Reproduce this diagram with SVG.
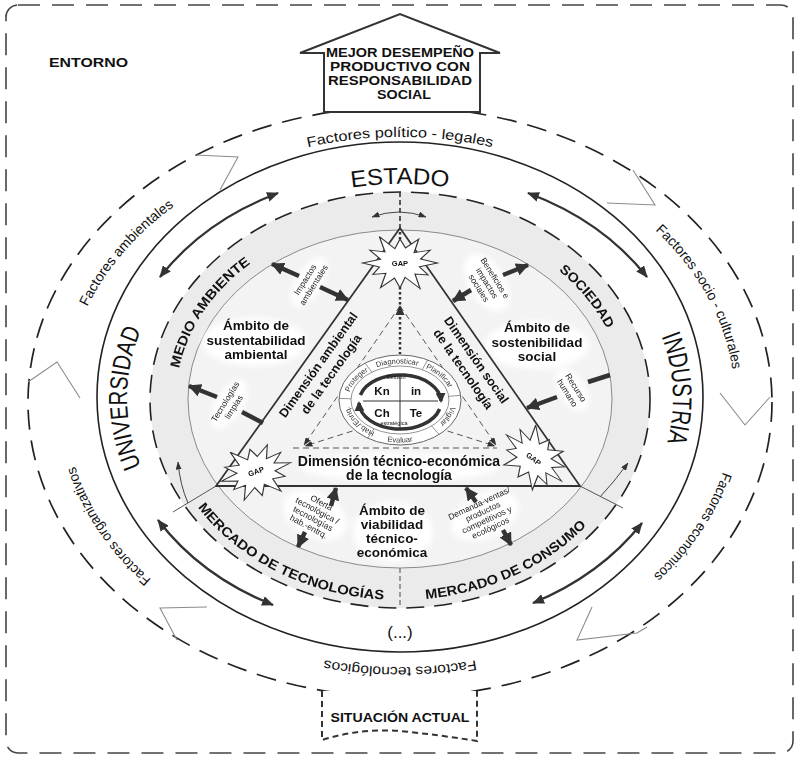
<svg xmlns="http://www.w3.org/2000/svg" width="800" height="761" viewBox="0 0 800 761">
<defs>
<style>
text{font-family:"Liberation Sans",Arial,sans-serif;fill:#111}
.b{font-weight:bold}
.dl{fill:none;stroke:#222;stroke-width:1.7;stroke-dasharray:20 11}
.zig{fill:none;stroke:#8c8c8c;stroke-width:1.1}
.big{fill:none;stroke:#333;stroke-width:2.4;marker-start:url(#ah);marker-end:url(#ah)}
.sa{stroke:#333;stroke-width:4.5;marker-end:url(#hb)}
.bar{stroke:#333;stroke-width:4.5}
.thin{fill:none;stroke:#444;stroke-width:1;marker-end:url(#hs)}
.dt{fill:none;stroke:#555;stroke-width:1;stroke-dasharray:6 4}
.fac{font-size:14px}
.lab{font-size:8.5px;fill:#222}
.amb{font-size:13.5px;font-weight:bold}
.star{fill:#fff;stroke:#333;stroke-width:1;vector-effect:non-scaling-stroke}
.gap{font-size:7.5px;font-weight:bold}
.cl{font-size:7.5px;fill:#333}
</style>
<marker id="ah" viewBox="0 0 12 10" refX="11" refY="5" markerWidth="12" markerHeight="10" markerUnits="userSpaceOnUse" orient="auto-start-reverse"><path d="M0,0 L12,5 L0,10 Z" fill="#333"/></marker>
<marker id="hb" viewBox="0 0 12 12" refX="11" refY="6" markerWidth="13" markerHeight="13" markerUnits="userSpaceOnUse" orient="auto"><path d="M0,0 L12,6 L0,12 Z" fill="#333"/></marker>
<marker id="hs" viewBox="0 0 8 6" refX="7.5" refY="3" markerWidth="8" markerHeight="6" markerUnits="userSpaceOnUse" orient="auto-start-reverse"><path d="M0,0 L8,3 L0,6 Z" fill="#333"/></marker>
<marker id="hc" viewBox="0 0 10 10" refX="8" refY="5" markerWidth="10" markerHeight="10" markerUnits="userSpaceOnUse" orient="auto"><path d="M0,0 L10,5 L0,10 Z" fill="#333"/></marker>
<filter id="soft" x="-50%" y="-50%" width="200%" height="200%"><feGaussianBlur stdDeviation="3"/></filter>
<path id="star" d="M30,0 L15.5,4.1 L22.5,13 L12,12 L16,27.7 L4.1,15.5 L0,27 L-4.4,16.4 L-15.5,26.8 L-11.3,11.3 L-21.7,12.5 L-16.4,4.4 L-30,0 L-15.5,-4.1 L-24.2,-14 L-12,-12 L-16.5,-28.6 L-4.1,-15.5 L0,-26 L4.4,-16.4 L15,-26 L11.3,-11.3 L24.2,-14 L16.4,-4.4 Z"/>
<path id="pPol" d="M184.6,199 A335,265 0 0 1 615.4,199"/>
<path id="pAmb" d="M68.3,438.8 A335,265 0 0 1 296.5,150"/>
<path id="pSoc" d="M557.1,168 A335,265 0 0 1 718.6,483.9"/>
<path id="pEco" d="M725,337.9 A335,265 0 0 1 536.3,644.1"/>
<path id="pTec" d="M615.4,605 A335,265 0 0 1 184.6,605"/>
<path id="pOrg" d="M263.7,644.1 A335,265 0 0 1 75,337.9"/>
<path id="pEst" d="M229,234 A266,214 0 0 1 571,234"/>
<path id="pUni" d="M163.6,505 A273,214 0 0 1 163.6,291"/>
<path id="pInd" d="M636.4,291 A273,214 0 0 1 636.4,505"/>
<path id="pMed" d="M176.3,389.5 A224,182 0 0 1 268.3,251.8"/>
<path id="pSocd" d="M518.7,244.7 A224,182 0 0 1 621.8,373.7"/>
<path id="pMT" d="M186.2,490.3 A240,201 0 0 0 404.2,600"/>
<path id="pMC" d="M395.8,600 A240,201 0 0 0 605.7,502.5"/>
<path id="pC" d="M348.5,400 A51.5,36.5 0 1 1 451.5,400 A51.5,36.5 0 1 1 348.5,400"/>
<path id="pEv" d="M341,400 A59,42.5 0 0 0 459,400"/>
</defs>

<rect width="800" height="761" fill="#fff"/>

<g id="entorno">
<rect x="6" y="5" width="787" height="748" rx="12" fill="none" stroke="#444" stroke-width="1.6" stroke-dasharray="22 12"/>
<text x="49" y="67" class="b" font-size="12" textLength="79" lengthAdjust="spacingAndGlyphs">ENTORNO</text>
</g>

<g id="anillo-factores">
<ellipse cx="400" cy="402" rx="372" ry="295" class="dl"/>
<polyline class="zig" points="195,155 238,157 220,190"/>
<polyline class="zig" points="633,170 655,205 607,203"/>
<polyline class="zig" points="28,382 57,362 80,398"/>
<polyline class="zig" points="720,393 745,425 770,397"/>
<polyline class="zig" points="592,607 577,640 637,633 647,627"/>
<polyline class="zig" points="207,607 160,608 177,640"/>
<text class="fac"><textPath href="#pPol" startOffset="50%" text-anchor="middle" textLength="186" lengthAdjust="spacingAndGlyphs">Factores político - legales</textPath></text>
<text class="fac"><textPath href="#pAmb" startOffset="50%" text-anchor="middle" textLength="134" lengthAdjust="spacingAndGlyphs">Factores ambientales</textPath></text>
<text class="fac"><textPath href="#pSoc" startOffset="50%" text-anchor="middle" textLength="162" lengthAdjust="spacingAndGlyphs">Factores socio - culturales</textPath></text>
<text class="fac"><textPath href="#pEco" startOffset="50%" text-anchor="middle" textLength="126" lengthAdjust="spacingAndGlyphs">Factores económicos</textPath></text>
<text class="fac"><textPath href="#pTec" startOffset="50%" text-anchor="middle" textLength="152" lengthAdjust="spacingAndGlyphs">Factores tecnológicos</textPath></text>
<text class="fac"><textPath href="#pOrg" startOffset="50%" text-anchor="middle" textLength="138" lengthAdjust="spacingAndGlyphs">Factores organizativos</textPath></text>
</g>

<g id="meta">
<polygon points="324,112 324,53 300,53 400,14 500,53 480,53 480,112" fill="#fff" stroke="#333" stroke-width="2"/>
<text x="400" y="57" class="b" font-size="13.5" text-anchor="middle" textLength="148" lengthAdjust="spacingAndGlyphs">MEJOR DESEMPEÑO</text>
<text x="400" y="71" class="b" font-size="13.5" text-anchor="middle" textLength="140" lengthAdjust="spacingAndGlyphs">PRODUCTIVO CON</text>
<text x="400" y="85" class="b" font-size="13.5" text-anchor="middle" textLength="144" lengthAdjust="spacingAndGlyphs">RESPONSABILIDAD</text>
<text x="404" y="98.5" class="b" font-size="13.5" text-anchor="middle" textLength="54" lengthAdjust="spacingAndGlyphs">SOCIAL</text>
</g>

<g id="situacion">
<path d="M322,691 L322,740 Q360,728 400,731 Q440,735 477,741 L477,691" fill="#fff" stroke="#333" stroke-width="2" stroke-dasharray="6 4"/>
<text x="400" y="722" class="b" font-size="13" text-anchor="middle" textLength="139" lengthAdjust="spacingAndGlyphs">SITUACIÓN ACTUAL</text>
</g>

<g id="actores">
<ellipse cx="400" cy="397" rx="303" ry="255" fill="#fff" stroke="#222" stroke-width="1.6"/>
<text font-size="23"><textPath href="#pEst" startOffset="50%" text-anchor="middle" textLength="97" lengthAdjust="spacingAndGlyphs">ESTADO</textPath></text>
<text font-size="25"><textPath href="#pUni" startOffset="50%" text-anchor="middle" textLength="140" lengthAdjust="spacingAndGlyphs">UNIVERSIDAD</textPath></text>
<text font-size="27"><textPath href="#pInd" startOffset="46%" text-anchor="middle" textLength="108" lengthAdjust="spacingAndGlyphs">INDUSTRIA</textPath></text>
<text x="400" y="638" font-size="17" text-anchor="middle">(...)</text>
</g>

<g id="entorno-inmediato">
<ellipse cx="400" cy="400" rx="250" ry="208" fill="#ebebeb" stroke="#222" stroke-width="1.6" stroke-dasharray="18 10"/>
<ellipse cx="400" cy="399" rx="212" ry="169" fill="#f3f3f3" stroke="#8a8a8a" stroke-width="1"/>
<g filter="url(#soft)" fill="#fff">
<ellipse cx="254" cy="342" rx="52" ry="24"/>
<ellipse cx="537" cy="345" rx="52" ry="24"/>
<ellipse cx="393" cy="532" rx="40" ry="30"/>
<ellipse cx="400" cy="467" rx="100" ry="14"/>
<ellipse cx="309" cy="282" rx="28" ry="13" transform="rotate(-58 309 282)"/>
<ellipse cx="229" cy="404" rx="28" ry="13" transform="rotate(-58 229 404)"/>
<ellipse cx="487" cy="283" rx="32" ry="18" transform="rotate(58 487 283)"/>
<ellipse cx="572" cy="390" rx="24" ry="13" transform="rotate(58 572 390)"/>
<ellipse cx="315" cy="515" rx="34" ry="22" transform="rotate(28 315 515)"/>
<ellipse cx="485" cy="516" rx="36" ry="22" transform="rotate(-25 485 516)"/>
</g>
<text class="amb"><textPath href="#pMed" startOffset="50%" text-anchor="middle" textLength="130" lengthAdjust="spacingAndGlyphs">MEDIO AMBIENTE</textPath></text>
<text class="amb"><textPath href="#pSocd" startOffset="50%" text-anchor="middle" textLength="76" lengthAdjust="spacingAndGlyphs">SOCIEDAD</textPath></text>
<text class="amb"><textPath href="#pMT" startOffset="50%" text-anchor="middle" textLength="214" lengthAdjust="spacingAndGlyphs">MERCADO DE TECNOLOGÍAS</textPath></text>
<text class="amb"><textPath href="#pMC" startOffset="50%" text-anchor="middle" textLength="180" lengthAdjust="spacingAndGlyphs">MERCADO DE CONSUMO</textPath></text>
</g>

<g id="ambitos">
<text class="b" font-size="13.5" text-anchor="middle"><tspan x="256" y="330">Ámbito de</tspan><tspan x="256" y="345">sustentabilidad</tspan><tspan x="256" y="359">ambiental</tspan></text>
<text class="b" font-size="13.5" text-anchor="middle"><tspan x="537" y="332">Ámbito de</tspan><tspan x="537" y="347">sostenibilidad</tspan><tspan x="537" y="361">social</tspan></text>
<text class="b" font-size="13.5" text-anchor="middle"><tspan x="392" y="515">Ámbito de</tspan><tspan x="392" y="529">viabilidad</tspan><tspan x="392" y="543">técnico-</tspan><tspan x="392" y="557">económica</tspan></text>
</g>

<g id="triangulo">
<path d="M400,228 L216,486 L580,486 Z" fill="none" stroke="#333" stroke-width="1.8"/>
<line x1="216" y1="486" x2="173" y2="512" stroke="#555" stroke-width="1"/>
<line x1="580" y1="486" x2="623" y2="508" stroke="#555" stroke-width="1"/>
<text class="b" font-size="12.5" text-anchor="middle" transform="translate(318.4,365) rotate(-54.5)"><tspan x="0" y="4">Dimensión ambiental</tspan></text>
<text class="b" font-size="12.5" text-anchor="middle" transform="translate(331.4,374.2) rotate(-54.5)"><tspan x="0" y="4">de la tecnología</tspan></text>
<text class="b" font-size="12.5" text-anchor="middle" transform="translate(476.2,360) rotate(55.1)"><tspan x="0" y="4">Dimensión social</tspan></text>
<text class="b" font-size="12.5" text-anchor="middle" transform="translate(463.1,369.2) rotate(55.1)"><tspan x="0" y="4">de la tecnología</tspan></text>
<text class="b" font-size="14" text-anchor="middle"><tspan x="399" y="466">Dimensión técnico-económica</tspan><tspan x="399" y="480">de la tecnología</tspan></text>
</g>

<g id="etiquetas">
<text class="lab" text-anchor="middle" transform="translate(309,282) rotate(-58)"><tspan x="0" y="-1.5">Impactos</tspan><tspan x="0" y="8.5">ambientales</tspan></text>
<text class="lab" text-anchor="middle" transform="translate(229,404) rotate(-58)"><tspan x="0" y="-1.5">Tecnologías</tspan><tspan x="0" y="8.5">limpias</tspan></text>
<text class="lab" text-anchor="middle" transform="translate(487,283) rotate(58)"><tspan x="0" y="-6.5">Beneficios e</tspan><tspan x="0" y="3">impactos</tspan><tspan x="0" y="12.5">sociales</tspan></text>
<text class="lab" text-anchor="middle" transform="translate(572,390) rotate(58)"><tspan x="0" y="-1.5">Recurso</tspan><tspan x="0" y="8.5">humano</tspan></text>
<text class="lab" text-anchor="middle" transform="translate(315,515) rotate(28)"><tspan x="0" y="-11">Oferta</tspan><tspan x="0" y="-2">tecnológica /</tspan><tspan x="0" y="7">tecnologías</tspan><tspan x="0" y="16">hab.-entrq.</tspan></text>
<text class="lab" text-anchor="middle" transform="translate(485,516) rotate(-25)"><tspan x="0" y="-11">Demanda-ventas/</tspan><tspan x="0" y="-2">productos</tspan><tspan x="0" y="7">competitivos y</tspan><tspan x="0" y="16">ecológicos</tspan></text>
</g>

<g id="connectors">
<path class="big" d="M160,277 A280,232 0 0 1 278,193"/>
<path class="big" d="M528,193 A280,232 0 0 1 647,277"/>
<path class="big" d="M158,520 A280,232 0 0 0 273,605"/>
<path class="big" d="M533,603 A280,232 0 0 0 642,523"/>
<line x1="400" y1="192" x2="400" y2="228" stroke="#333" stroke-width="1.6" stroke-dasharray="5 3"/>
<line x1="400" y1="568" x2="400" y2="608" stroke="#666" stroke-width="1.2" stroke-dasharray="5 3"/>
<path d="M372,217 Q399,207 426,217" fill="none" stroke="#444" stroke-width="1" marker-start="url(#hs)" marker-end="url(#hs)"/>
<path class="thin" d="M188,503 Q180,485 178,462"/>
<path class="thin" d="M600,497 Q614,482 628,463"/>
<line class="sa" x1="299" y1="276" x2="272" y2="264"/>
<line class="sa" x1="320" y1="287" x2="348" y2="300"/>
<line class="sa" x1="217" y1="397" x2="189" y2="386"/>
<line class="bar" x1="242" y1="412" x2="263" y2="423"/>
<line class="sa" x1="503" y1="275" x2="528" y2="265"/>
<line class="sa" x1="471" y1="290" x2="453" y2="301"/>
<line class="bar" x1="588" y1="382" x2="610" y2="375"/>
<line class="sa" x1="557" y1="397" x2="527" y2="408"/>
<line class="sa" x1="331" y1="506" x2="336" y2="488"/>
<line class="sa" x1="305" y1="532" x2="298" y2="547"/>
<line class="sa" x1="476" y1="502" x2="466" y2="488"/>
<line class="sa" x1="503" y1="530" x2="511" y2="545"/>
<path class="dt" d="M400,306 L304,445" marker-end="url(#hs)"/>
<path class="dt" d="M400,306 L496,445" marker-end="url(#hs)"/>
<path class="dt" d="M362,428 L305,446" marker-end="url(#hs)"/>
<path class="dt" d="M438,428 L495,446" marker-end="url(#hs)"/>
<line class="dt" x1="293" y1="448" x2="497" y2="448"/>
<line x1="400" y1="232" x2="400" y2="354" stroke="#333" stroke-width="2.5" stroke-dasharray="2.5 2.5"/>
<polygon points="400,305 395.5,315 404.5,315" fill="#333"/>
</g>

<g id="gap-superior">
<use href="#star" class="star" transform="translate(400,263) scale(1.25,0.92)"/>
<text x="400" y="266" class="gap" text-anchor="middle">GAP</text>
</g>
<g id="gap-izquierdo">
<use href="#star" class="star" transform="translate(256,472) rotate(-15) scale(1.2,0.9)"/>
<text class="gap" text-anchor="middle" transform="translate(257,474) rotate(-20)">GAP</text>
</g>
<g id="gap-derecho">
<use href="#star" class="star" transform="translate(534,458) rotate(40) scale(1.2,0.92)"/>
<text class="gap" text-anchor="middle" transform="translate(532,461) rotate(38)">GAP</text>
</g>

<g id="gestion">
<ellipse cx="400" cy="400" rx="61" ry="45" fill="#fff" stroke="#666" stroke-width="1"/>
<ellipse cx="400" cy="400" rx="49" ry="34" fill="#fff" stroke="#777" stroke-width="0.8"/>
<g stroke="#777" stroke-width="0.8">
<line x1="422.2" y1="369.7" x2="427.7" y2="359.9"/>
<line x1="448.8" y1="396.4" x2="460.7" y2="395.3"/>
<line x1="431.5" y1="426" x2="439.2" y2="434.5"/>
<line x1="374" y1="428.8" x2="367.7" y2="438.2"/>
<line x1="351" y1="398.8" x2="339.1" y2="398.4"/>
<line x1="371.9" y1="372.2" x2="365" y2="363.1"/>
</g>
<text class="cl"><textPath href="#pC" startOffset="8%" text-anchor="middle">Proteger</textPath></text>
<text class="cl"><textPath href="#pC" startOffset="24%" text-anchor="middle">Diagnosticar</textPath></text>
<text class="cl"><textPath href="#pC" startOffset="40%" text-anchor="middle">Planificar</textPath></text>
<text class="cl"><textPath href="#pC" startOffset="56%" text-anchor="middle">Vigilar</textPath></text>
<text class="cl"><textPath href="#pC" startOffset="91%" text-anchor="middle">Hab./Enriq.</textPath></text>
<text class="cl" font-size="8"><textPath href="#pEv" startOffset="50%" text-anchor="middle">Evaluar</textPath></text>
<path d="M360.4,395 A41,27 0 0 1 441,401" fill="none" stroke="#333" stroke-width="3.5" marker-end="url(#hc)"/>
<path d="M439.6,409 A41,27 0 0 1 359,403" fill="none" stroke="#333" stroke-width="3.5" marker-end="url(#hc)"/>
<line x1="400" y1="374" x2="400" y2="430" stroke="#333" stroke-width="1"/>
<line x1="363" y1="401" x2="438" y2="401" stroke="#333" stroke-width="1"/>
<text x="396" y="379" font-size="5.5" text-anchor="middle" fill="#333">Gestión</text>
<text x="394" y="425" font-size="5.5" text-anchor="middle" fill="#333">estratégica</text>
<text class="b" font-size="11.5" text-anchor="middle"><tspan x="382" y="395">Kn</tspan><tspan x="416" y="395">in</tspan><tspan x="382" y="417">Ch</tspan><tspan x="416" y="417">Te</tspan></text>
</g>
</svg>
